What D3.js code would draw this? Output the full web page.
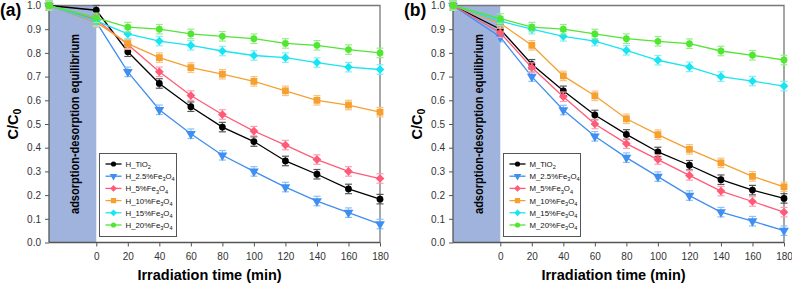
<!DOCTYPE html>
<html>
<head>
<meta charset="utf-8">
<script src="https://cdn.jsdelivr.net/npm/d3@7"></script>
<style>
  body { margin: 0; background: #fff; }
  svg { display: block; font-family: "Liberation Sans", Arial, sans-serif; }
</style>
</head>
<body>
<div id="chart"></div>
<script>
// irradiation time (min); -30 is the start of the dark adsorption step
const times = [-30, 0, 20, 40, 60, 80, 100, 120, 140, 160, 180];
const xTicks = [0, 20, 40, 60, 80, 100, 120, 140, 160, 180];
const yTicks = [0, 0.1, 0.2, 0.3, 0.4, 0.5, 0.6, 0.7, 0.8, 0.9, 1.0];
const errBar = 0.02;

// panel (a)
const hLabels = ["H_TiO2", "H_2.5%Fe3O4", "H_5%Fe3O4", "H_10%Fe3O4", "H_15%Fe3O4", "H_20%Fe3O4"];
const hTiO2 = [1.0, 0.98, 0.805, 0.671, 0.573, 0.487, 0.426, 0.344, 0.288, 0.226, 0.183];
const h2_5 = [1.0, 0.93, 0.72, 0.56, 0.459, 0.368, 0.30, 0.234, 0.175, 0.126, 0.078];
const h5 = [1.0, 0.94, 0.835, 0.72, 0.62, 0.54, 0.47, 0.411, 0.35, 0.30, 0.27];
const h10 = [1.0, 0.93, 0.839, 0.78, 0.738, 0.71, 0.68, 0.64, 0.60, 0.58, 0.55];
const h15 = [1.0, 0.935, 0.88, 0.85, 0.832, 0.808, 0.789, 0.78, 0.759, 0.74, 0.73];
const h20 = [1.0, 0.948, 0.909, 0.90, 0.88, 0.87, 0.86, 0.84, 0.832, 0.814, 0.80];

// panel (b)
const mLabels = ["M_TiO2", "M_2.5%Fe3O4", "M_5%Fe3O4", "M_10%Fe3O4", "M_15%Fe3O4", "M_20%Fe3O4"];
const mTiO2 = [1.0, 0.90, 0.752, 0.64, 0.538, 0.456, 0.382, 0.326, 0.265, 0.221, 0.186];
const m2_5 = [1.0, 0.867, 0.70, 0.559, 0.448, 0.358, 0.278, 0.198, 0.128, 0.09, 0.05];
const m5 = [1.0, 0.885, 0.738, 0.615, 0.50, 0.417, 0.35, 0.283, 0.217, 0.173, 0.128];
const m10 = [1.0, 0.925, 0.832, 0.703, 0.619, 0.522, 0.455, 0.393, 0.336, 0.279, 0.235];
const m15 = [1.0, 0.934, 0.90, 0.87, 0.85, 0.811, 0.769, 0.741, 0.70, 0.681, 0.66];
const m20 = [1.0, 0.945, 0.909, 0.90, 0.88, 0.86, 0.849, 0.839, 0.808, 0.79, 0.77];

const colors = ["#000000", "#3f8ef0", "#ff5b78", "#f6a030", "#18e4f2", "#50e632"];
const errColors = ["#555555", "#8cc0f8", "#ff9db0", "#f8c37e", "#7ff0f8", "#97ee84"];
const shapes = ["circle", "triDown", "diamond", "square", "diamond", "circle"];

const W = 792, H = 284;
const svg = d3.select("#chart").append("svg")
  .attr("width", W)
  .attr("height", H);

// write "Fe3O4" style text with digits after letters as subscripts
function chemText(sel, str, subSize) {
  let runs = [];
  str.replace(/([A-Za-z])([0-9]+)|([^])/g, (m, letter, digits, other) => {
    if (letter) { runs.push([letter, false]); runs.push([digits, true]); }
    else runs.push([other, false]);
    return m;
  });
  let down = false;
  runs.forEach(([t, sub]) => {
    let ts = sel.append("tspan").text(t);
    if (sub) { ts.attr("font-size", subSize).attr("dy", 2.2); down = true; }
    else if (down) { ts.attr("dy", -2.2); down = false; }
  });
}

function drawMarker(g, shape, x, y, color, s) {
  if (shape === "circle") {
    g.append("circle").attr("cx", x).attr("cy", y).attr("r", s).attr("fill", color);
  } else if (shape === "square") {
    g.append("rect").attr("x", x - s).attr("y", y - s).attr("width", 2 * s).attr("height", 2 * s).attr("fill", color);
  } else if (shape === "diamond") {
    g.append("path").attr("d", d3.symbol(d3.symbolDiamond2, s * s * 4.2)()).attr("transform", `translate(${x},${y})`).attr("fill", color);
  } else {
    g.append("path").attr("d", d3.symbol(d3.symbolTriangle, s * s * 3.6)()).attr("transform", `translate(${x},${y}) rotate(180)`).attr("fill", color);
  }
}

function panel(x0, tag, labels, series) {
  const left = x0 + 49, right = x0 + 380, top = 5.5, bottom = 242.5;
  const x = d3.scaleLinear().domain([-30, 180]).range([left, right]);
  const y = d3.scaleLinear().domain([0, 1]).range([bottom, top]);
  const g = svg.append("g");

  // dark (adsorption) region
  g.append("rect")
    .attr("x", x(-30)).attr("y", y(1))
    .attr("width", x(0) - x(-30)).attr("height", y(0) - y(1))
    .attr("fill", "#9fb3dd");
  g.append("text")
    .attr("transform", `translate(${(x(-30) + x(0)) / 2 + 2},${(y(0) + y(1)) / 2}) rotate(-90)`)
    .attr("text-anchor", "middle")
    .attr("dominant-baseline", "central")
    .attr("font-size", 12.5).attr("font-weight", "bold")
    .attr("textLength", 180).attr("lengthAdjust", "spacingAndGlyphs")
    .text("adsorption-desorption equilibrium");

  // frame
  g.append("path")
    .attr("d", `M${left},${top}H${right}V${bottom}`)
    .attr("fill", "none").attr("stroke", "#777").attr("stroke-width", 1.3);

  const xAxis = g.append("g")
    .attr("transform", `translate(0,${bottom})`)
    .call(d3.axisBottom(x).tickValues(xTicks).tickSize(4).tickPadding(6).tickFormat(d3.format("d")));
  const yAxis = g.append("g")
    .attr("transform", `translate(${left},0)`)
    .call(d3.axisLeft(y).tickValues(yTicks).tickSize(4).tickPadding(4).tickFormat(d3.format(".1f")));
  [xAxis, yAxis].forEach(a => {
    a.select(".domain").attr("stroke", "#555").attr("stroke-width", 1.3);
    a.selectAll(".tick line").attr("stroke", "#555");
    a.selectAll("text").attr("font-size", 10).attr("fill", "#333")
      .attr("font-family", "Liberation Sans, Arial, sans-serif");
  });
  xAxis.select(".domain").attr("d", `M${left},0H${right}`);
  yAxis.select(".domain").attr("d", `M0,${bottom}V${top}`);

  // series
  series.forEach((vals, i) => {
    const pts = times.map((t, j) => [x(t), y(vals[j])]);
    g.append("path")
      .attr("d", d3.line()(pts))
      .attr("fill", "none").attr("stroke", colors[i]).attr("stroke-width", 1.3);
    const eb = g.append("g").attr("stroke", errColors[i]).attr("stroke-width", 1.2);
    times.forEach((t, j) => {
      const cx = x(t), y1 = y(vals[j] + errBar), y2 = y(vals[j] - errBar);
      eb.append("line").attr("x1", cx).attr("x2", cx).attr("y1", y1).attr("y2", y2);
      eb.append("line").attr("x1", cx - 3.5).attr("x2", cx + 3.5).attr("y1", y1).attr("y2", y1);
      eb.append("line").attr("x1", cx - 3.5).attr("x2", cx + 3.5).attr("y1", y2).attr("y2", y2);
    });
    const mk = g.append("g");
    pts.forEach(p => drawMarker(mk, shapes[i], p[0], p[1], colors[i], 3.4));
  });

  // legend
  const lx = left + 50.5, ly = 153.5;
  const lg = g.append("g");
  lg.append("rect")
    .attr("x", lx).attr("y", ly).attr("width", 77).attr("height", 83)
    .attr("fill", "#fff").attr("stroke", "#555").attr("stroke-width", 1);
  labels.forEach((lab, i) => {
    const ry = ly + 10.5 + i * 12.2;
    lg.append("line").attr("x1", lx + 6).attr("x2", lx + 22).attr("y1", ry).attr("y2", ry)
      .attr("stroke", colors[i]).attr("stroke-width", 1.3);
    drawMarker(lg, shapes[i], lx + 14, ry, colors[i], 2.6);
    const t = lg.append("text").attr("x", lx + 26).attr("y", ry + 3)
      .attr("font-size", 7.8).attr("fill", "#111");
    chemText(t, lab, 5.6);
  });

  // axis titles
  g.append("text")
    .attr("x", (left + right) / 2 - 5).attr("y", 280)
    .attr("text-anchor", "middle").attr("font-size", 14.5).attr("font-weight", "bold")
    .text("Irradiation time (min)");
  const yl = g.append("text")
    .attr("transform", `translate(${x0 + 18},${(top + bottom) / 2}) rotate(-90)`)
    .attr("text-anchor", "middle").attr("font-size", 14.5).attr("font-weight", "bold");
  yl.append("tspan").text("C/C");
  yl.append("tspan").text("0").attr("font-size", 10.5).attr("dy", 3);

  g.append("text")
    .attr("x", x0 + 0).attr("y", 16)
    .attr("font-size", 17.5).attr("font-weight", "bold")
    .text(tag);
}

panel(0, "(a)", hLabels, [hTiO2, h2_5, h5, h10, h15, h20]);
panel(404, "(b)", mLabels, [mTiO2, m2_5, m5, m10, m15, m20]);
</script>
</body>
</html>
